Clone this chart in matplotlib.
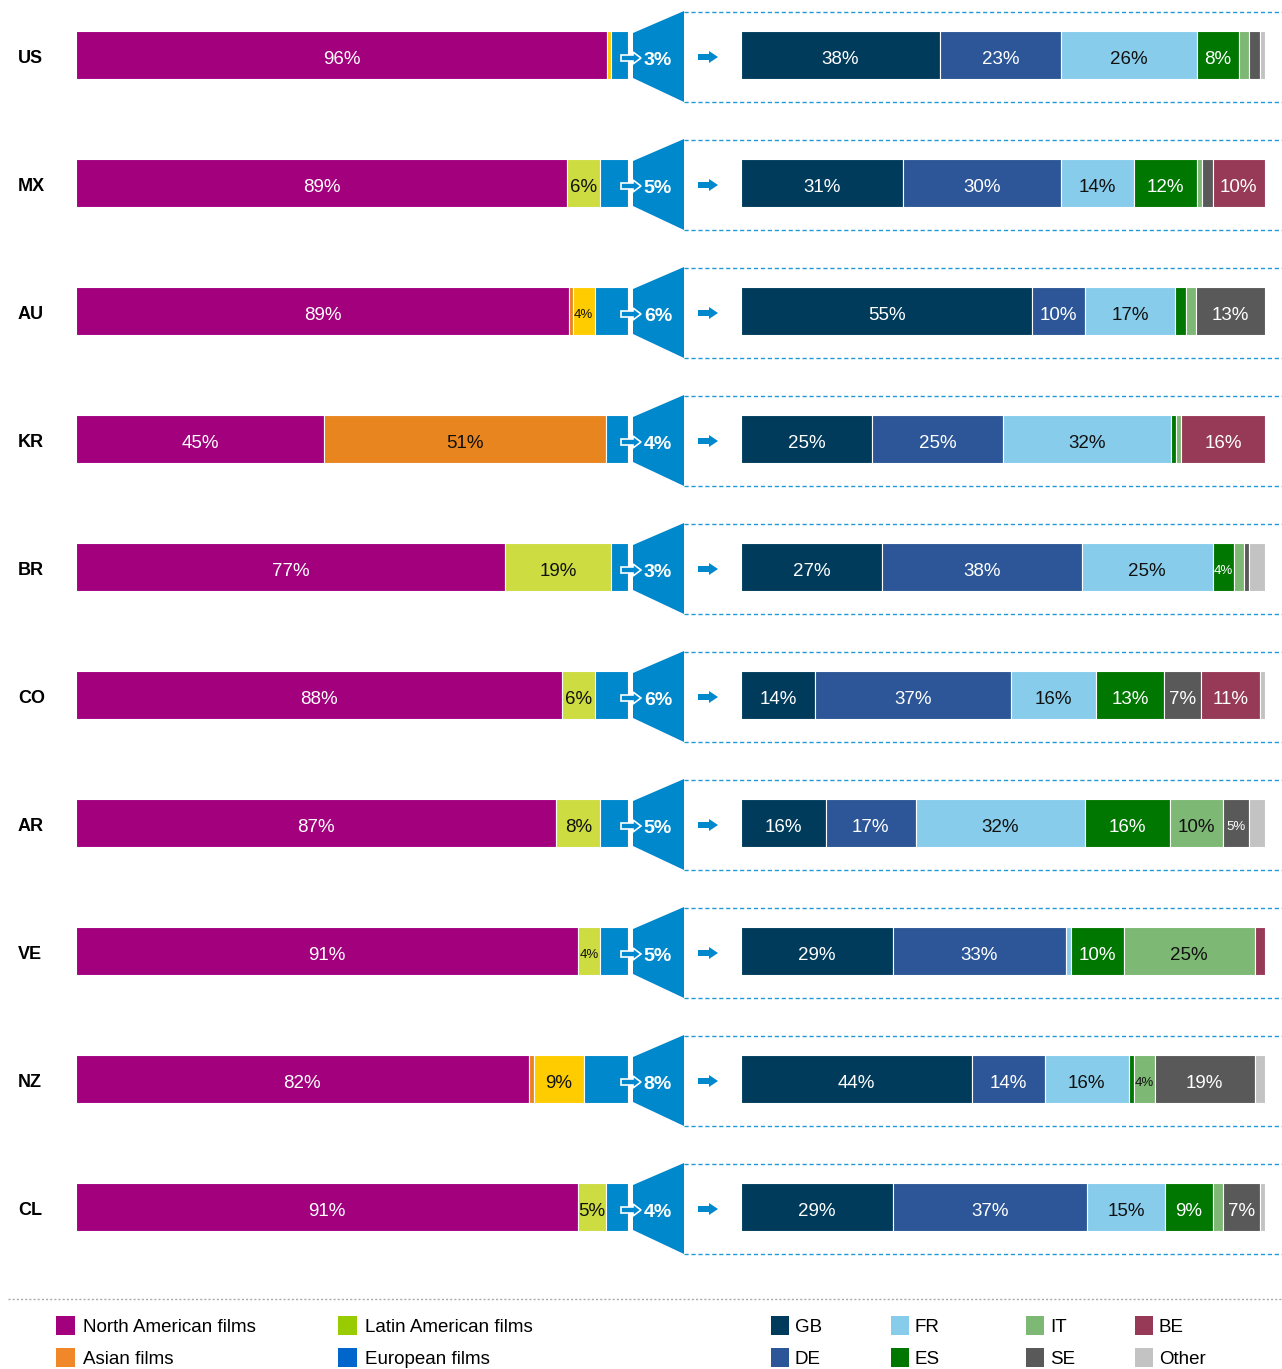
import matplotlib
matplotlib.use("Agg")
import matplotlib.pyplot as plt
from matplotlib.patches import Polygon, Rectangle
import numpy as np

plt.rcParams['font.family'] = ['Liberation Sans', 'DejaVu Sans']

# ---- data ----
countries = ["US", "MX", "AU", "KR", "BR", "CO", "AR", "VE", "NZ", "CL"]

# origin of films (share of admissions, %)
north_american = [96, 89, 89, 45, 77, 88, 87, 91, 82, 91]
latin_american = [0, 6, 0, 0, 19, 6, 8, 4, 0, 5]
asian = [0, 0, 0.7, 51, 0, 0, 0, 0, 1, 0]
other_films = [0.8, 0, 4, 0, 0, 0, 0, 0, 9, 0]
european = [3, 5, 6, 4, 3, 6, 5, 5, 8, 4]

# breakdown of European films (%)
gb = [38, 31, 55, 25, 27, 14, 16, 29, 44, 29]
de = [23, 30, 10, 25, 38, 37, 17, 33, 14, 37]
fr = [26, 14, 17, 32, 25, 16, 32, 1, 16, 15]
es = [8, 12, 2, 1, 4, 13, 16, 10, 1, 9]
it = [2, 1, 2, 1, 2, 0, 10, 25, 4, 2]
se = [2, 2, 13, 0, 1, 7, 5, 0, 19, 7]
be = [0, 10, 0, 16, 0, 11, 0, 2, 0, 0]
other_eu = [1, 0, 0, 0, 3, 1, 3, 0, 2, 1]

left_colors = ["#A2007D", "#CDDC40", "#E8851E", "#FFCC00", "#0088CC"]
left_text = ["white", "#111111", "#111111", "#111111", "white"]
right_colors = ["#003B5C", "#2C5697", "#87CDEB", "#007700", "#7DB874",
                "#595959", "#973A57", "#C3C3C3"]
right_text = ["white", "white", "#111111", "white", "#111111",
              "white", "white", "#111111"]

legend_left = [("North American films", "#A2007D"), ("Latin American films", "#99CC00"),
               ("Asian films", "#F0882A"), ("European films", "#0066CC")]
legend_right = [("GB", "#003B5C"), ("FR", "#87CDEB"), ("IT", "#7DB874"), ("BE", "#973A57"),
                ("DE", "#2C5697"), ("ES", "#007700"), ("SE", "#595959"), ("Other", "#C3C3C3")]

blue = "#0088CC"

fig = plt.figure(figsize=(12.82, 13.69), dpi=100)
ax = fig.add_axes([0, 0, 1, 1])
ax.set_xlim(0, 1282)
ax.set_ylim(1369, 0)
ax.axis('off')

row_y = 55 + 128 * np.arange(len(countries))
bar_h = 48


def stacked(series, colors, txtcolors, x0, width, small_max):
    data = np.array(series, dtype=float)
    frac = data / data.sum(axis=0) * width
    lefts = x0 + np.vstack([np.zeros(data.shape[1]), np.cumsum(frac, axis=0)[:-1]])
    for k in range(data.shape[0]):
        keep = data[k] > 0
        ax.barh(row_y[keep], frac[k][keep], left=lefts[k][keep], height=bar_h,
                color=colors[k], edgecolor='white', linewidth=0.8)
        for i in range(data.shape[1]):
            v = data[k, i]
            if v >= 4 and txtcolors[k] is not None:
                ax.text(lefts[k, i] + frac[k, i] / 2, row_y[i] + (9 if v > small_max else 7),
                        f"{v:g}%", ha='center', va='baseline', color=txtcolors[k],
                        fontsize=13.5 if v > small_max else 9.5)


# left bars (European share gets no label inside)
stacked([north_american, latin_american, asian, other_films, european],
        left_colors, left_text[:4] + [None], 76, 552, 4)

# right bars
stacked([gb, de, fr, es, it, se, be, other_eu], right_colors, right_text, 741, 524, 5)

for i, y in enumerate(row_y):
    ax.text(18, y + 8, countries[i], fontsize=13, fontweight='bold', va='baseline')

    # funnel
    ax.add_patch(Polygon([(633, y - 22), (684, y - 44), (684, y + 47), (633, y + 23)],
                         closed=True, facecolor=blue, edgecolor='none'))
    ax.text(658, y + 10, f"{european[i]}%", color='white', fontsize=14,
            fontweight='bold', ha='center', va='baseline')

    # outlined arrow
    ay = y + 3
    ax.add_patch(Polygon([(621, ay - 3), (633, ay - 3), (633, ay - 6), (641, ay),
                          (633, ay + 6), (633, ay + 3), (621, ay + 3)],
                         closed=True, facecolor=blue, edgecolor='white', linewidth=1.2))
    # filled arrow
    ax.add_patch(Polygon([(698, y - 1), (709, y - 1), (709, y - 4), (718, y + 2),
                          (709, y + 8), (709, y + 5), (698, y + 5)],
                         closed=True, facecolor=blue, edgecolor='none'))

    # dashed frame
    for yy in (y - 43, y + 47):
        ax.plot([684, 1282], [yy, yy], color="#1E9BD7", lw=1.0, ls=(0, (3, 2)))

# separator
ax.plot([8, 1282], [1299, 1299], color="#AAAAAA", lw=1.0, ls=(0, (1.5, 1.5)))

# legend
leg_rows = [1326, 1358]
for j, (lab, col) in enumerate(legend_left):
    x = [56, 338][j % 2]
    y = leg_rows[j // 2]
    ax.add_patch(Rectangle((x, y - 10), 19, 19, facecolor=col, edgecolor='none'))
    ax.text(x + 27, y + 6, lab, fontsize=13.5, va='baseline')
for j, (lab, col) in enumerate(legend_right):
    x = [771, 891, 1026, 1135][j % 4]
    y = leg_rows[j // 4]
    ax.add_patch(Rectangle((x, y - 10), 18, 19, facecolor=col, edgecolor='none'))
    ax.text(x + 24, y + 6, lab, fontsize=13.5, va='baseline')

fig.savefig("out.png", dpi=100)
